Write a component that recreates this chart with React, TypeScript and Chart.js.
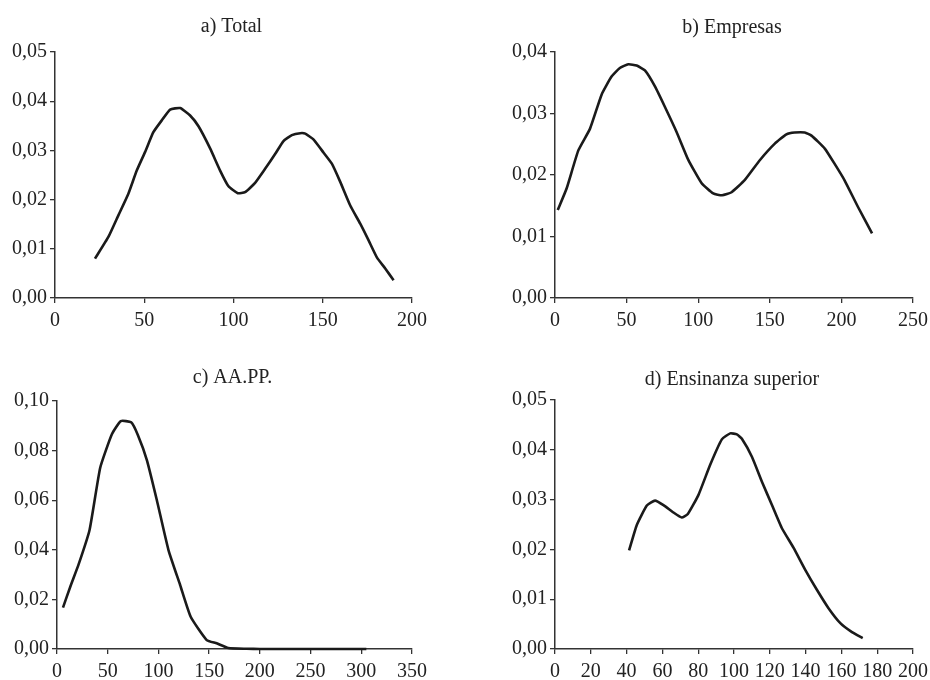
import React, { useEffect, useRef } from "react";
import { Chart, registerables } from "chart.js";

Chart.register(...registerables);

// ---- Data ----
const totalX = [22.4, 29.9, 35.5, 41.1, 45.8, 50.5, 55.1, 59.8, 64.5, 70.1, 75.7, 80.4, 86.9, 92.5, 97.2, 102.4, 106.5, 112.1, 117.8, 123.4, 128.0, 132.7, 137.4, 140.2, 144.9, 149.5, 155.1, 159.8, 165.4, 171.0, 175.7, 180.4, 185.0, 189.7];
const totalY = [0.0080, 0.0124, 0.0168, 0.0212, 0.0259, 0.0297, 0.0337, 0.0361, 0.0383, 0.0386, 0.0371, 0.0349, 0.0304, 0.0259, 0.0227, 0.0213, 0.0215, 0.0234, 0.0263, 0.0293, 0.0319, 0.0331, 0.0335, 0.0334, 0.0322, 0.0300, 0.0273, 0.0236, 0.0188, 0.0151, 0.0117, 0.0082, 0.0060, 0.0036];

const empresasX = [1.9, 8.1, 16.3, 24.4, 32.6, 39.5, 45.3, 51.2, 57.0, 62.8, 69.8, 76.7, 84.9, 93.0, 102.3, 110.5, 116.7, 123.3, 132.6, 143.0, 153.5, 161.6, 167.4, 174.4, 179.1, 188.4, 195.3, 202.3, 211.6, 221.4];
const empresasY = [0.0143, 0.0178, 0.0240, 0.0275, 0.0331, 0.0360, 0.0374, 0.0380, 0.0378, 0.0370, 0.0344, 0.0311, 0.0270, 0.0225, 0.0187, 0.0170, 0.0167, 0.0172, 0.0192, 0.0224, 0.0251, 0.0266, 0.0269, 0.0269, 0.0264, 0.0243, 0.0218, 0.0191, 0.0148, 0.0105];

const aappX = [5.9, 13.1, 21.3, 32.1, 42.6, 54.1, 62.9, 73.1, 79.7, 88.6, 98.4, 109.9, 121.4, 131.8, 147.6, 157.4, 168.9, 187.0, 200.0, 220.0, 240.0, 260.0, 280.0, 305.0];
const aappY = [0.0167, 0.0251, 0.0341, 0.0480, 0.0731, 0.0866, 0.0919, 0.0914, 0.0863, 0.0762, 0.0601, 0.0399, 0.0258, 0.0130, 0.0036, 0.0023, 0.0004, 0.0001, 0.0, 0.0, 0.0, 0.0, 0.0, 0.0];

const superiorX = [41.4, 45.7, 51.3, 55.9, 60.6, 66.2, 70.8, 74.2, 80.1, 86.7, 93.2, 97.9, 101.6, 104.4, 110.0, 115.6, 121.2, 126.7, 133.3, 139.8, 146.3, 152.8, 159.4, 165.9, 171.9];
const superiorY = [0.0198, 0.0249, 0.0288, 0.0298, 0.0289, 0.0274, 0.0264, 0.0271, 0.0309, 0.0370, 0.0421, 0.0433, 0.0431, 0.0422, 0.0386, 0.0336, 0.0289, 0.0243, 0.0203, 0.0159, 0.0119, 0.0082, 0.0052, 0.0034, 0.0022];

const titles = ["a) Total", "b) Empresas", "c) AA.PP.", "d) Ensinanza superior"];

const FONT = '"Liberation Serif", "Times New Roman", serif';
const AXIS_COLOR = "#333";

const titlePlugin = {
  id: "panelTitle",
  afterDraw(chart: any, _args: any, opts: any) {
    const { ctx, chartArea } = chart;
    ctx.save();
    ctx.font = `20px ${FONT}`;
    ctx.fillStyle = "#222";
    ctx.textAlign = "center";
    ctx.textBaseline = "alphabetic";
    ctx.fillText(opts.text, (chartArea.left + chartArea.right) / 2 - 2, opts.y);
    ctx.restore();
  },
};

type PanelProps = {
  left: number;
  top: number;
  xs: number[];
  ys: number[];
  title: string;
  titleY: number;
  xMax: number;
  xStep: number;
  yMax: number;
  yStep: number;
  area: { left: number; top: number; right: number; bottom: number };
};

const Y_AXIS_W = 50;
const X_AXIS_H = 30;
const W = 465;
const H = 340;

function Panel(p: PanelProps) {
  const ref = useRef<HTMLCanvasElement | null>(null);
  useEffect(() => {
    if (!ref.current) return;
    const points = p.xs.map((x, i) => ({ x, y: p.ys[i] }));
    const chart = new Chart(ref.current, {
      type: "line",
      data: {
        datasets: [
          {
            data: points,
            borderColor: "#1a1a1a",
            borderWidth: 2.6,
            pointRadius: 0,
            tension: 0.15,
            fill: false,
            clip: false as any,
          },
        ],
      },
      plugins: [titlePlugin as any],
      options: {
        animation: false,
        responsive: false,
        devicePixelRatio: 1,
        layout: {
          autoPadding: false,
          padding: {
            left: p.area.left - Y_AXIS_W,
            top: p.area.top,
            right: W - p.area.right,
            bottom: H - p.area.bottom - X_AXIS_H,
          },
        },
        plugins: {
          legend: { display: false },
          tooltip: { enabled: false },
          title: { display: false },
          panelTitle: { text: p.title, y: p.titleY },
        } as any,
        scales: {
          x: {
            type: "linear",
            min: 0,
            max: p.xMax,
            afterFit: (s: any) => {
              s.height = X_AXIS_H;
              s.paddingLeft = 0;
              s.paddingRight = 0;
            },
            grid: {
              drawOnChartArea: false,
              drawTicks: true,
              tickLength: 5,
              color: AXIS_COLOR,
              lineWidth: 1.3,
            },
            border: { display: true, color: AXIS_COLOR, width: 1.5 },
            ticks: {
              stepSize: p.xStep,
              autoSkip: false,
              maxRotation: 0,
              padding: 6,
              color: "#222",
              font: { family: FONT, size: 20 },
              callback: (v: any) => String(v),
            },
          },
          y: {
            type: "linear",
            min: 0,
            max: p.yMax,
            afterFit: (s: any) => {
              s.width = Y_AXIS_W;
              s.paddingTop = 0;
              s.paddingBottom = 0;
            },
            grid: {
              drawOnChartArea: false,
              drawTicks: true,
              tickLength: 5,
              color: AXIS_COLOR,
              lineWidth: 1.3,
            },
            border: { display: true, color: AXIS_COLOR, width: 1.5 },
            ticks: {
              stepSize: p.yStep,
              autoSkip: false,
              padding: 3,
              color: "#222",
              font: { family: FONT, size: 20 },
              callback: (v: any) => Number(v).toFixed(2).replace(".", ","),
            },
          },
        },
      },
    });
    return () => chart.destroy();
  }, []);
  return (
    <canvas
      ref={ref}
      width={W}
      height={H}
      style={{ position: "absolute", left: p.left, top: p.top, width: W, height: H }}
    />
  );
}

export default function App() {
  return (
    <div
      style={{
        position: "absolute",
        left: 0,
        top: 0,
        width: 930,
        height: 680,
        background: "#fff",
        overflow: "hidden",
      }}
    >
      <Panel
        left={0}
        top={0}
        xs={totalX}
        ys={totalY}
        title={titles[0]}
        titleY={32}
        xMax={200}
        xStep={50}
        yMax={0.05}
        yStep={0.01}
        area={{ left: 55, top: 52, right: 412, bottom: 298 }}
      />
      <Panel
        left={465}
        top={0}
        xs={empresasX}
        ys={empresasY}
        title={titles[1]}
        titleY={33}
        xMax={250}
        xStep={50}
        yMax={0.04}
        yStep={0.01}
        area={{ left: 90, top: 52, right: 448, bottom: 298 }}
      />
      <Panel
        left={0}
        top={340}
        xs={aappX}
        ys={aappY}
        title={titles[2]}
        titleY={43}
        xMax={350}
        xStep={50}
        yMax={0.1}
        yStep={0.02}
        area={{ left: 57, top: 61, right: 412, bottom: 309 }}
      />
      <Panel
        left={465}
        top={340}
        xs={superiorX}
        ys={superiorY}
        title={titles[3]}
        titleY={45}
        xMax={200}
        xStep={20}
        yMax={0.05}
        yStep={0.01}
        area={{ left: 90, top: 60, right: 448, bottom: 309 }}
      />
    </div>
  );
}
